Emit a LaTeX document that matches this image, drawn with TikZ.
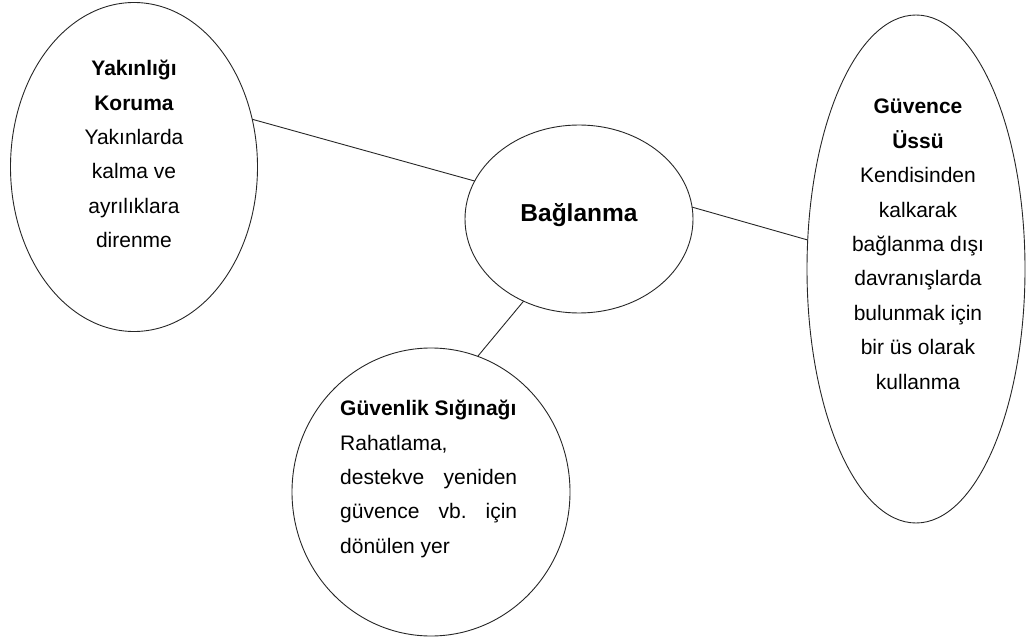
\documentclass[tikz,border=0pt]{standalone}
\usepackage{fontspec}
\setmainfont{Liberation Sans}
\frenchspacing
\usetikzlibrary{shapes.geometric}
\tikzset{
  bubble/.style={draw=black!85, line width=0.9pt, ellipse, inner sep=0pt, outer sep=0pt},
  link/.style={draw=black!85, line width=0.9pt},
  body/.style={inner sep=0pt, align=center, font=\fontsize{21}{34.4}\selectfont},
}
\begin{document}
\begin{tikzpicture}[x=1pt,y=-1pt]
\useasboundingbox (0,0) rectangle (1030,644);
% ellipses
\node[bubble, minimum width=247pt, minimum height=329pt] (L) at (134,167) {};
\node[bubble, minimum width=228pt, minimum height=188pt] (C) at (579,219) {};
\node[bubble, minimum width=218pt, minimum height=508pt] (R) at (916,269) {};
\node[bubble, minimum width=278pt, minimum height=288pt] (B) at (431,492) {};
% texts
\node[body, anchor=north] (Lt) at (134,60)
  {\textbf{Yakınlığı}\\\textbf{Koruma}\\Yakınlarda\\kalma ve\\ayrılıklara\\direnme};
\node[inner sep=0pt, font=\bfseries\fontsize{24.5}{28}\selectfont] (Ct) at (579,215) {Bağlanma};
\node[body, anchor=north] (Rt) at (918,99)
  {\textbf{Güvence}\\\textbf{Üssü}\\Kendisinden\\kalkarak\\bağlanma dışı\\davranışlarda\\bulunmak için\\bir üs olarak\\kullanma};
\node[body, align=left, anchor=north west] (Bt) at (340,400)
  {\textbf{Güvenlik Sığınağı}\\Rahatlama,\\\makebox[177pt][s]{destekve yeniden}\\\makebox[177pt][s]{güvence vb. için}\\dönülen yer};
% connectors
\draw[link] (L.22) -- (C.160);
\draw[link] (C.6) -- (R.165);
\draw[link] (C.236) -- (B.71);
\end{tikzpicture}
\end{document}
